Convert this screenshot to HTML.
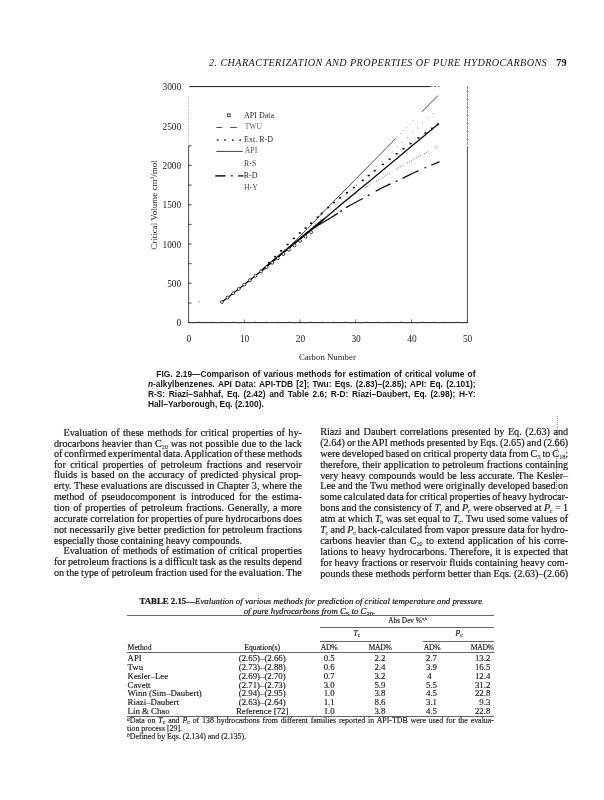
<!DOCTYPE html>
<html><head><meta charset="utf-8"><title>page 79</title>
<style>
html,body{margin:0;padding:0;background:#fff;}
body{width:604px;height:800px;position:relative;overflow:hidden;filter:grayscale(1);font-family:"Liberation Serif",serif;color:#151515;}
.l{position:absolute;white-space:nowrap;}
.b{font-size:10.2px;line-height:11px;height:11px;-webkit-text-stroke:0.18px #151515;}
.b sub{font-size:6.2px;line-height:0;vertical-align:-1.6px;-webkit-text-stroke:0.08px #151515;}
.b i+sub{margin-left:-0.4px;}
.cap{font-family:"Liberation Sans",sans-serif;font-weight:bold;font-size:8.4px;line-height:10px;height:10px;color:#151515;}
sub,sup{line-height:0;}
.tk{-webkit-text-stroke:0.14px #151515;}
.tk2{-webkit-text-stroke:0.2px #151515;}
.hr{position:absolute;height:0;}
svg text{font-family:"Liberation Serif",serif;fill:#1a1a1a;}
</style></head><body>

<div class="l" id="hdr" style="left:209px;top:56.50px;font-style:italic;font-size:10.2px;line-height:12px;letter-spacing:0.4px;">2. CHARACTERIZATION AND PROPERTIES OF PURE HYDROCARBONS</div>
<div class="l" id="pg" style="left:556.3px;top:56.50px;font-weight:bold;font-size:10.2px;line-height:12px;">79</div>
<svg id="chart" style="position:absolute;left:0;top:0" width="604" height="420" viewBox="0 0 604 420">
<line x1="189.2" y1="86.6" x2="430" y2="86.6" stroke="#1c1c1c" stroke-width="1"/>
<line x1="430" y1="86.6" x2="440" y2="86.6" stroke="#1c1c1c" stroke-width="0.8" stroke-dasharray="2.5 1.5" opacity="0.7"/>
<line x1="188.6" y1="96" x2="188.6" y2="146" stroke="#1c1c1c" stroke-width="0.7" stroke-dasharray="1 1.3" opacity="0.55"/>
<line x1="188.6" y1="146" x2="188.6" y2="323" stroke="#1c1c1c" stroke-width="0.8"/>
<line x1="188.2" y1="322.6" x2="468" y2="322.6" stroke="#1c1c1c" stroke-width="1"/>
<line x1="467.4" y1="86" x2="467.4" y2="147" stroke="#1c1c1c" stroke-width="0.8" stroke-dasharray="3 1" opacity="0.75"/>
<line x1="467.4" y1="147" x2="467.4" y2="323" stroke="#1c1c1c" stroke-width="0.8"/>
<line x1="198.2" y1="300.8" x2="199.6" y2="302.4" stroke="#444" stroke-width="0.7"/>
<line x1="188.6" y1="303.0" x2="191.6" y2="303.0" stroke="#1c1c1c" stroke-width="0.8"/>
<line x1="188.6" y1="283.3" x2="191.6" y2="283.3" stroke="#1c1c1c" stroke-width="0.8"/>
<line x1="188.6" y1="263.7" x2="191.6" y2="263.7" stroke="#1c1c1c" stroke-width="0.8"/>
<line x1="188.6" y1="244.0" x2="191.6" y2="244.0" stroke="#1c1c1c" stroke-width="0.8"/>
<line x1="188.6" y1="224.4" x2="191.6" y2="224.4" stroke="#1c1c1c" stroke-width="0.8"/>
<line x1="188.6" y1="204.7" x2="191.6" y2="204.7" stroke="#1c1c1c" stroke-width="0.8"/>
<line x1="188.6" y1="185.1" x2="191.6" y2="185.1" stroke="#1c1c1c" stroke-width="0.8"/>
<line x1="188.6" y1="165.4" x2="191.6" y2="165.4" stroke="#1c1c1c" stroke-width="0.8"/>
<line x1="188.6" y1="145.8" x2="191.6" y2="145.8" stroke="#1c1c1c" stroke-width="0.8"/>
<line x1="199.7" y1="322.6" x2="199.7" y2="321.0" stroke="#1c1c1c" stroke-width="0.7" opacity="0.4"/>
<line x1="210.9" y1="322.6" x2="210.9" y2="321.0" stroke="#1c1c1c" stroke-width="0.7" opacity="0.4"/>
<line x1="222.0" y1="322.6" x2="222.0" y2="321.0" stroke="#1c1c1c" stroke-width="0.7" opacity="0.4"/>
<line x1="233.2" y1="322.6" x2="233.2" y2="321.0" stroke="#1c1c1c" stroke-width="0.7" opacity="0.4"/>
<line x1="244.3" y1="322.6" x2="244.3" y2="319.40000000000003" stroke="#1c1c1c" stroke-width="0.7" opacity="0.85"/>
<line x1="255.5" y1="322.6" x2="255.5" y2="321.0" stroke="#1c1c1c" stroke-width="0.7" opacity="0.4"/>
<line x1="266.6" y1="322.6" x2="266.6" y2="321.0" stroke="#1c1c1c" stroke-width="0.7" opacity="0.4"/>
<line x1="277.8" y1="322.6" x2="277.8" y2="321.0" stroke="#1c1c1c" stroke-width="0.7" opacity="0.4"/>
<line x1="288.9" y1="322.6" x2="288.9" y2="321.0" stroke="#1c1c1c" stroke-width="0.7" opacity="0.4"/>
<line x1="300.1" y1="322.6" x2="300.1" y2="319.40000000000003" stroke="#1c1c1c" stroke-width="0.7" opacity="0.85"/>
<line x1="311.2" y1="322.6" x2="311.2" y2="321.0" stroke="#1c1c1c" stroke-width="0.7" opacity="0.4"/>
<line x1="322.4" y1="322.6" x2="322.4" y2="321.0" stroke="#1c1c1c" stroke-width="0.7" opacity="0.4"/>
<line x1="333.5" y1="322.6" x2="333.5" y2="321.0" stroke="#1c1c1c" stroke-width="0.7" opacity="0.4"/>
<line x1="344.7" y1="322.6" x2="344.7" y2="321.0" stroke="#1c1c1c" stroke-width="0.7" opacity="0.4"/>
<line x1="355.8" y1="322.6" x2="355.8" y2="319.40000000000003" stroke="#1c1c1c" stroke-width="0.7" opacity="0.85"/>
<line x1="367.0" y1="322.6" x2="367.0" y2="321.0" stroke="#1c1c1c" stroke-width="0.7" opacity="0.4"/>
<line x1="378.1" y1="322.6" x2="378.1" y2="321.0" stroke="#1c1c1c" stroke-width="0.7" opacity="0.4"/>
<line x1="389.3" y1="322.6" x2="389.3" y2="321.0" stroke="#1c1c1c" stroke-width="0.7" opacity="0.4"/>
<line x1="400.4" y1="322.6" x2="400.4" y2="321.0" stroke="#1c1c1c" stroke-width="0.7" opacity="0.4"/>
<line x1="411.6" y1="322.6" x2="411.6" y2="319.40000000000003" stroke="#1c1c1c" stroke-width="0.7" opacity="0.85"/>
<line x1="422.7" y1="322.6" x2="422.7" y2="321.0" stroke="#1c1c1c" stroke-width="0.7" opacity="0.4"/>
<line x1="433.9" y1="322.6" x2="433.9" y2="321.0" stroke="#1c1c1c" stroke-width="0.7" opacity="0.4"/>
<line x1="445.0" y1="322.6" x2="445.0" y2="321.0" stroke="#1c1c1c" stroke-width="0.7" opacity="0.4"/>
<line x1="456.2" y1="322.6" x2="456.2" y2="321.0" stroke="#1c1c1c" stroke-width="0.7" opacity="0.4"/>
<text x="181.2" y="326.2" font-size="9.4" text-anchor="end">0</text>
<text x="181.2" y="286.9" font-size="9.4" text-anchor="end">500</text>
<text x="181.2" y="247.6" font-size="9.4" text-anchor="end">1000</text>
<text x="181.2" y="208.3" font-size="9.4" text-anchor="end">1500</text>
<text x="181.2" y="169.0" font-size="9.4" text-anchor="end">2000</text>
<text x="181.2" y="129.7" font-size="9.4" text-anchor="end">2500</text>
<text x="181.2" y="90.4" font-size="9.4" text-anchor="end">3000</text>
<text x="188.9" y="341.9" font-size="9.4" text-anchor="middle">0</text>
<text x="244.6" y="341.9" font-size="9.4" text-anchor="middle">10</text>
<text x="300.4" y="341.9" font-size="9.4" text-anchor="middle">20</text>
<text x="356.1" y="341.9" font-size="9.4" text-anchor="middle">30</text>
<text x="411.9" y="341.9" font-size="9.4" text-anchor="middle">40</text>
<text x="467.6" y="341.9" font-size="9.4" text-anchor="middle">50</text>
<text x="327.4" y="360.4" font-size="8.8" text-anchor="middle">Carbon Number</text>
<text transform="translate(157.3,205) rotate(-90)" font-size="9" text-anchor="middle">Critical Volume cm<tspan font-size="5.5" dy="-3">3</tspan><tspan dy="3">/mol</tspan></text>
<rect x="227.4" y="113.9" width="2.8" height="2.8" fill="none" stroke="#222" stroke-width="0.8"/>
<text x="244.1" y="117.8" font-size="8" style="fill:#2a2a2a">API Data</text>
<line x1="216.3" y1="127.5" x2="222.2" y2="127.5" stroke="#222" stroke-width="0.8"/>
<line x1="230.2" y1="127.5" x2="236.8" y2="127.5" stroke="#222" stroke-width="0.8"/>
<text x="244.7" y="129.3" font-size="7.6" style="fill:#6a6a6a">TWU</text>
<rect x="216.79999999999998" y="139.4" width="1.7" height="1.4" fill="#111"/>
<rect x="224.1" y="139.4" width="1.7" height="1.4" fill="#111"/>
<rect x="232.0" y="139.4" width="1.7" height="1.4" fill="#111"/>
<rect x="239.29999999999998" y="139.4" width="1.7" height="1.4" fill="#111"/>
<text x="244.1" y="142.1" font-size="8" style="fill:#2a2a2a">Ext. R-D</text>
<line x1="216.3" y1="151.4" x2="242.7" y2="151.4" stroke="#111" stroke-width="0.8"/>
<text x="244.7" y="153.4" font-size="7.8" style="fill:#555">API</text>
<text x="244.1" y="165.7" font-size="7.8" style="fill:#444">R-S</text>
<line x1="215.3" y1="175.9" x2="225.5" y2="175.9" stroke="#111" stroke-width="1.5"/>
<line x1="231" y1="175.9" x2="232.8" y2="175.9" stroke="#111" stroke-width="1.1"/>
<line x1="238.1" y1="175.9" x2="243.6" y2="175.9" stroke="#111" stroke-width="1.3"/>
<text x="243.7" y="177.7" font-size="8" style="fill:#2a2a2a">R-D</text>
<text x="244.1" y="189.8" font-size="7.8" style="fill:#555">H-Y</text>
<polyline points="262.0,270.2 263.9,268.7 265.8,267.2 267.7,265.7 269.6,264.2 271.5,262.6 273.4,261.0 275.3,259.4 277.2,257.8 279.1,256.2 281.0,254.5 282.9,252.7 284.8,251.0 286.7,249.2 288.6,247.3 290.5,245.5 292.4,243.6 294.3,241.7 296.2,239.8 298.1,237.9 300.0,236.0" fill="none" stroke="#161616" stroke-width="0.7" opacity="0.9"/>
<polyline points="300.0,236.0 302.0,234.0 303.9,232.1 305.9,230.1 307.8,228.1 309.8,226.1 311.8,224.0 313.7,222.0 315.7,220.0 317.6,218.0 319.6,216.0 321.6,214.0 323.5,211.9 325.5,209.9 327.4,207.9 329.4,205.9 331.3,203.9 333.3,201.9 335.3,199.8 337.2,197.8 339.2,195.8 341.1,193.8 343.1,191.8 345.1,189.9 347.0,187.9 349.0,185.9 350.9,183.9 352.9,181.9 354.9,179.9 356.8,178.0 358.8,176.0 360.7,174.0 362.7,172.0 364.7,170.0 366.6,168.1 368.6,166.1 370.5,164.1 372.5,162.1 374.4,160.1 376.4,158.1 378.4,156.2 380.3,154.2 382.3,152.2 384.2,150.2 386.2,148.2 388.2,146.2 390.1,144.2 392.1,142.2 394.0,140.2 396.0,138.2" fill="none" stroke="#161616" stroke-width="0.8" opacity="1"/>
<polyline points="422.0,111.8 423.8,110.0 425.6,108.2 427.3,106.4 429.1,104.5 430.9,102.7 432.7,100.9 434.4,99.1 436.2,97.3 438.0,95.7" fill="none" stroke="#161616" stroke-width="0.8" opacity="1"/>
<polyline points="397.0,137.2 398.8,135.4 400.6,133.6 402.4,131.7 404.2,129.9 406.0,128.1 407.8,126.2 409.6,124.4 411.4,122.6 413.2,120.7 415.0,118.9" fill="none" stroke="#222" stroke-width="0.7" stroke-dasharray="1 3.5" opacity="0.8"/>
<polyline points="300.0,238.5 302.0,236.6 303.9,234.8 305.9,232.9 307.9,231.0 309.9,229.2 311.8,227.3 313.8,225.5 315.8,223.6 317.7,221.7 319.7,219.9 321.7,218.0 323.7,216.1 325.6,214.3 327.6,212.4 329.6,210.5 331.5,208.7 333.5,206.8 335.5,205.0 337.4,203.1 339.4,201.2 341.4,199.4 343.4,197.5 345.3,195.7 347.3,193.8 349.3,192.0 351.2,190.1 353.2,188.3 355.2,186.4 357.2,184.6 359.1,182.7 361.1,180.8 363.1,179.0 365.0,177.1 367.0,175.3 369.0,173.4 371.0,171.6 372.9,169.7 374.9,167.9 376.9,166.0 378.8,164.2 380.8,162.3 382.8,160.5 384.8,158.6 386.7,156.8 388.7,154.9 390.7,153.1 392.6,151.3 394.6,149.4 396.6,147.6 398.6,145.7 400.5,143.9 402.5,142.0 404.5,140.2 406.4,138.3 408.4,136.5 410.4,134.6 412.3,132.8 414.3,130.9 416.3,129.0 418.3,127.2 420.2,125.3 422.2,123.5 424.2,121.6 426.1,119.7 428.1,117.9 430.1,116.0 432.1,114.2 434.0,112.3 436.0,111.1" fill="none" stroke="#333" stroke-width="0.8" stroke-dasharray="1 6" opacity="0.75"/>
<polyline points="338.0,206.7 339.8,205.0 341.6,203.4 343.5,201.8 345.3,200.3 347.1,198.9 348.9,197.5 350.7,196.2 352.5,195.0 354.4,193.9 356.2,192.8 358.0,191.7" fill="none" stroke="#222" stroke-width="0.75" stroke-dasharray="1 1.5" opacity="0.85"/>
<polyline points="365.0,187.7 366.5,186.8 368.0,186.0 369.5,185.2 371.0,184.4" fill="none" stroke="#222" stroke-width="0.75" stroke-dasharray="1 1.5" opacity="0.85"/>
<polyline points="376.0,181.6 377.8,180.5 379.5,179.5 381.2,178.5 383.0,177.4 384.8,176.4 386.5,175.3 388.2,174.3 390.0,173.2" fill="none" stroke="#222" stroke-width="0.75" stroke-dasharray="1 1.5" opacity="0.85"/>
<polyline points="396.0,169.5 397.6,168.5 399.2,167.6 400.8,166.6 402.4,165.6 404.0,164.7" fill="none" stroke="#222" stroke-width="0.75" stroke-dasharray="1 1.5" opacity="0.85"/>
<polyline points="407.0,163.0 408.8,162.0 410.5,161.0 412.2,160.0 414.0,159.1 415.8,158.1 417.5,157.2 419.2,156.3 421.0,155.4" fill="none" stroke="#222" stroke-width="0.75" stroke-dasharray="1 1.5" opacity="0.85"/>
<polyline points="424.0,153.8 425.7,152.9 427.3,152.0 429.0,151.2" fill="none" stroke="#222" stroke-width="0.75" stroke-dasharray="1 1.5" opacity="0.85"/>
<polyline points="435.0,148.0 436.8,147.1 438.5,146.3" fill="none" stroke="#222" stroke-width="0.75" stroke-dasharray="1 1.5" opacity="0.85"/>
<polyline points="300.0,239.2 301.9,237.5 303.8,235.7 305.7,234.0 307.6,232.4 309.5,230.9 311.4,229.6 313.3,228.3 315.2,227.1 317.1,225.9 319.0,224.8 320.9,223.6 322.8,222.5 324.7,221.4 326.6,220.2 328.5,219.1 330.4,218.0 332.3,216.8 334.2,215.6 336.1,214.4 338.0,213.1" fill="none" stroke="#111" stroke-width="1.3"/>
<polyline points="345.9,207.7 347.8,206.6 349.7,205.5 351.5,204.5 353.4,203.5 355.3,202.5 357.2,201.5 359.0,200.5 360.9,199.5 362.8,198.5" fill="none" stroke="#111" stroke-width="1.3"/>
<polyline points="375.7,191.2 377.6,190.2 379.4,189.2 381.3,188.3 383.1,187.3 385.0,186.4 386.9,185.6 388.7,184.7 390.6,183.8" fill="none" stroke="#111" stroke-width="1.3"/>
<polyline points="402.5,178.3 404.5,177.3 406.5,176.4 408.5,175.4 410.4,174.4 412.4,173.5 414.4,172.5 416.4,171.6 418.4,170.7" fill="none" stroke="#111" stroke-width="1.3"/>
<polyline points="431.3,165.2 432.9,164.5 434.6,163.8 436.2,163.1 437.9,162.4 439.5,161.7" fill="none" stroke="#111" stroke-width="1.3"/>
<polyline points="340.0,211.7 341.8,210.4" fill="none" stroke="#111" stroke-width="1.3"/>
<polyline points="367.8,195.7 369.6,194.6" fill="none" stroke="#111" stroke-width="1.3"/>
<polyline points="395.7,181.5 397.5,180.6" fill="none" stroke="#111" stroke-width="1.3"/>
<polyline points="424.5,168.0 426.3,167.3" fill="none" stroke="#111" stroke-width="1.3"/>
<polyline points="222.0,302.0 223.8,300.6 226.2,298.7 229.1,296.5 232.2,294.0 235.5,291.4 238.8,288.9 241.8,286.5 244.5,284.4 246.8,282.6 248.9,280.9 250.8,279.4 252.6,277.9 254.5,276.4 256.4,274.9 258.4,273.2 260.7,271.3 263.2,269.3 265.7,267.1 268.4,264.9 271.1,262.6 274.0,260.2 276.9,257.7 279.9,255.2 283.0,252.6 286.2,250.0 289.6,247.2 293.0,244.4 296.6,241.5 300.2,238.6 303.8,235.7 307.4,232.7 311.0,229.8 314.5,226.9 317.9,224.1 321.3,221.2 324.8,218.3 328.3,215.4 332.0,212.3 335.8,209.1 340.0,205.6 344.5,201.8 349.5,197.8 354.6,193.5 359.9,189.1 365.2,184.7 370.4,180.4 375.4,176.3 380.0,172.5 384.2,169.0 388.2,165.7 392.0,162.5 395.7,159.4 399.3,156.4 402.8,153.5 406.4,150.5 410.0,147.5 413.9,144.3 418.0,140.9 422.2,137.4 426.4,133.9 430.3,130.7 433.8,127.8 436.8,125.3 439.0,123.5" fill="none" stroke="#0a0a0a" stroke-width="1.25"/>
<polyline points="262.0,270.2 263.9,268.6 265.9,267.0 267.8,265.3 269.8,263.7 271.7,262.1 273.6,260.4 275.6,258.8 277.5,257.2 279.4,255.6 281.4,253.9 283.3,252.3 285.2,250.8 287.2,249.2 289.1,247.6 291.1,246.0 293.0,244.4 294.9,242.9 296.9,241.3 298.8,239.7 300.8,238.2 302.7,236.6 304.6,235.0 306.6,233.4 308.5,231.9 310.4,230.3 312.4,228.7 314.3,227.1 316.2,225.4 318.2,223.8 320.1,222.2 322.1,220.6 324.0,219.0" fill="none" stroke="#0a0a0a" stroke-width="2.0"/>
<rect x="268.0" y="261.8" width="2.1" height="1.6" fill="#111"/>
<rect x="274.0" y="255.9" width="2.1" height="1.6" fill="#111"/>
<rect x="280.0" y="250.0" width="2.1" height="1.6" fill="#111"/>
<rect x="286.5" y="243.7" width="2.1" height="1.6" fill="#111"/>
<rect x="292.8" y="237.6" width="2.1" height="1.6" fill="#111"/>
<rect x="298.7" y="232.2" width="2.1" height="1.6" fill="#111"/>
<rect x="304.5" y="227.2" width="2.1" height="1.6" fill="#111"/>
<rect x="310.0" y="222.4" width="2.1" height="1.6" fill="#111"/>
<rect x="316.6" y="216.4" width="2.1" height="1.6" fill="#111"/>
<rect x="320.6" y="212.7" width="2.1" height="1.6" fill="#111"/>
<rect x="327.2" y="206.7" width="2.1" height="1.6" fill="#111"/>
<rect x="333.0" y="201.7" width="2.1" height="1.6" fill="#111"/>
<rect x="338.9" y="197.1" width="2.1" height="1.6" fill="#111"/>
<rect x="345.9" y="191.9" width="2.1" height="1.6" fill="#111"/>
<rect x="352.8" y="186.8" width="2.1" height="1.6" fill="#111"/>
<rect x="361.8" y="179.6" width="2.1" height="1.6" fill="#111"/>
<rect x="367.7" y="174.7" width="2.1" height="1.6" fill="#111"/>
<rect x="373.7" y="169.9" width="2.1" height="1.6" fill="#111"/>
<rect x="381.7" y="163.6" width="2.1" height="1.6" fill="#111"/>
<rect x="388.6" y="158.3" width="2.1" height="1.6" fill="#111"/>
<rect x="395.6" y="153.0" width="2.1" height="1.6" fill="#111"/>
<rect x="402.5" y="147.9" width="2.1" height="1.6" fill="#111"/>
<rect x="409.5" y="142.8" width="2.1" height="1.6" fill="#111"/>
<rect x="417.4" y="137.1" width="2.1" height="1.6" fill="#111"/>
<rect x="424.4" y="132.2" width="2.1" height="1.6" fill="#111"/>
<rect x="431.0" y="127.6" width="2.1" height="1.6" fill="#111"/>
<rect x="436.8" y="123.6" width="2.1" height="1.6" fill="#111"/>
<circle cx="222.0" cy="302.0" r="1.45" fill="#fff" stroke="#111" stroke-width="0.8"/>
<circle cx="227.6" cy="297.6" r="1.45" fill="#fff" stroke="#111" stroke-width="0.8"/>
<circle cx="233.2" cy="293.3" r="1.45" fill="#fff" stroke="#111" stroke-width="0.8"/>
<circle cx="238.8" cy="288.9" r="1.45" fill="#fff" stroke="#111" stroke-width="0.8"/>
<circle cx="244.3" cy="284.6" r="1.45" fill="#fff" stroke="#111" stroke-width="0.8"/>
<circle cx="249.9" cy="280.2" r="1.45" fill="#fff" stroke="#111" stroke-width="0.8"/>
<circle cx="255.5" cy="275.8" r="1.45" fill="#fff" stroke="#111" stroke-width="0.8"/>
<circle cx="261.1" cy="271.5" r="1.45" fill="#fff" stroke="#111" stroke-width="0.8"/>
<circle cx="266.6" cy="267.1" r="1.45" fill="#fff" stroke="#111" stroke-width="0.8"/>
<circle cx="272.2" cy="262.8" r="1.45" fill="#fff" stroke="#111" stroke-width="0.8"/>
<circle cx="277.8" cy="258.4" r="1.45" fill="#fff" stroke="#111" stroke-width="0.8"/>
<circle cx="283.4" cy="254.1" r="1.45" fill="#fff" stroke="#111" stroke-width="0.8"/>
<circle cx="288.9" cy="249.7" r="1.45" fill="#fff" stroke="#111" stroke-width="0.8"/>
<circle cx="294.5" cy="245.4" r="1.45" fill="#fff" stroke="#111" stroke-width="0.8"/>
<circle cx="300.1" cy="241.0" r="1.45" fill="#fff" stroke="#111" stroke-width="0.8"/>
<circle cx="305.7" cy="236.7" r="1.45" fill="#fff" stroke="#111" stroke-width="0.8"/>
<circle cx="311.2" cy="232.3" r="1.45" fill="#fff" stroke="#111" stroke-width="0.8"/>
</svg>
<div class="l cap" id="cap0" style="left:156.3px;top:369.00px;word-spacing:0.833px;">FIG. 2.19—Comparison of various methods for estimation of critical volume of</div>
<div class="l cap" id="cap1" style="left:147.9px;top:379.00px;word-spacing:0.942px;"><i>n</i>-alkylbenzenes. API Data<span>:</span> API-TDB [2]; Twu: Eqs. (2.83)–(2.85); API: Eq. (2.101);</div>
<div class="l cap" id="cap2" style="left:147.9px;top:389.00px;word-spacing:1.339px;">R-S: Riazi–Sahhaf, Eq. (2.42) and Table 2.6; R-D: Riazi–Daubert, Eq. (2.98); H-Y:</div>
<div class="l cap" id="cap3" style="left:147.9px;top:399.00px;word-spacing:0.000px;">Hall–Yarborough, Eq. (2.100).</div>
<div class="l b" id="L0" style="left:63.5px;top:427.00px;word-spacing:0.872px;">Evaluation of these methods for critical properties of hy-</div>
<div class="l b" id="L1" style="left:53.9px;top:438.00px;word-spacing:0.246px;">drocarbons heavier than C<sub>20</sub> was not possible due to the lack</div>
<div class="l b" id="L2" style="left:53.9px;top:448.00px;word-spacing:-0.621px;">of confirmed experimental data. Application of these methods</div>
<div class="l b" id="L3" style="left:53.9px;top:459.00px;word-spacing:1.847px;">for critical properties of petroleum fractions and reservoir</div>
<div class="l b" id="L4" style="left:53.9px;top:469.00px;word-spacing:1.185px;">fluids is based on the accuracy of predicted physical prop-</div>
<div class="l b" id="L5" style="left:53.9px;top:480.00px;word-spacing:0.022px;">erty. These evaluations are discussed in Chapter 3, where the</div>
<div class="l b" id="L6" style="left:53.9px;top:491.00px;word-spacing:1.762px;">method of pseudocomponent is introduced for the estima-</div>
<div class="l b" id="L7" style="left:53.9px;top:502.00px;word-spacing:0.884px;">tion of properties of petroleum fractions. Generally, a more</div>
<div class="l b" id="L8" style="left:53.9px;top:513.00px;word-spacing:-0.171px;">accurate correlation for properties of pure hydrocarbons does</div>
<div class="l b" id="L9" style="left:53.9px;top:524.00px;word-spacing:0.149px;">not necessarily give better prediction for petroleum fractions</div>
<div class="l b" id="L10" style="left:53.9px;top:535.00px;word-spacing:-0.300px;">especially those containing heavy compounds.</div>
<div class="l b" id="L11" style="left:63.5px;top:545.00px;word-spacing:0.713px;">Evaluation of methods of estimation of critical properties</div>
<div class="l b" id="L12" style="left:53.9px;top:556.00px;word-spacing:-0.360px;">for petroleum fractions is a difficult task as the results depend</div>
<div class="l b" id="L13" style="left:53.9px;top:567.00px;word-spacing:-0.274px;">on the type of petroleum fraction used for the evaluation. The</div>
<div class="l b" id="R0" style="left:320.2px;top:426.00px;word-spacing:1.015px;">Riazi and Daubert correlations presented by Eq. (2.63) and</div>
<div class="l b" id="R1" style="left:320.2px;top:437.00px;word-spacing:-0.436px;">(2.64) or the API methods presented by Eqs. (2.65) and (2.66)</div>
<div class="l b" id="R2" style="left:320.2px;top:448.00px;word-spacing:-0.572px;">were developed based on critical property data from C<sub>5</sub> to C<sub>18</sub>;</div>
<div class="l b" id="R3" style="left:320.2px;top:459.00px;word-spacing:0.270px;">therefore, their application to petroleum fractions containing</div>
<div class="l b" id="R4" style="left:320.2px;top:470.00px;word-spacing:0.507px;">very heavy compounds would be less accurate. The Kesler–</div>
<div class="l b" id="R5" style="left:320.2px;top:480.00px;word-spacing:-0.037px;">Lee and the Twu method were originally developed based on</div>
<div class="l b" id="R6" style="left:320.2px;top:491.00px;word-spacing:-0.653px;">some calculated data for critical properties of heavy hydrocar-</div>
<div class="l b" id="R7" style="left:320.2px;top:502.00px;word-spacing:-0.171px;">bons and the consistency of <i>T</i><sub>c</sub> and <i>P</i><sub>c</sub> were observed at <i>P</i><sub>c</sub> = 1</div>
<div class="l b" id="R8" style="left:320.2px;top:513.00px;word-spacing:-0.093px;">atm at which <i>T</i><sub>b</sub> was set equal to <i>T</i><sub>c</sub>. Twu used some values of</div>
<div class="l b" id="R9" style="left:320.2px;top:524.00px;word-spacing:-0.348px;"><i>T</i><sub>c</sub> and <i>P</i><sub>c</sub> back-calculated from vapor pressure data for hydro-</div>
<div class="l b" id="R10" style="left:320.2px;top:535.00px;word-spacing:0.875px;">carbons heavier than C<sub>20</sub> to extend application of his corre-</div>
<div class="l b" id="R11" style="left:320.2px;top:546.00px;word-spacing:0.472px;">lations to heavy hydrocarbons. Therefore, it is expected that</div>
<div class="l b" id="R12" style="left:320.2px;top:557.00px;word-spacing:-0.047px;">for heavy fractions or reservoir fluids containing heavy com-</div>
<div class="l b" id="R13" style="left:320.2px;top:568.00px;word-spacing:-0.056px;">pounds these methods perform better than Eqs. (2.63)–(2.66)</div>
<div class="l tk2" id="tt1" style="left:139.5px;top:595.63px;font-size:8.8px;line-height:10px;width:341.6px;text-align:justify;text-align-last:justify;"><b>TABLE 2.15</b>—<i>Evaluation of various methods for prediction of critical temperature and pressure</i></div>
<div class="l tk2" id="tt2" style="left:243.7px;top:605.53px;font-size:8.8px;line-height:10px;font-style:italic;">of pure hydrocarbons from C<sub style="font-size:6.8px;vertical-align:-1.6px">5</sub> to C<sub style="font-size:6.8px;vertical-align:-1.6px">20</sub>.</div>
<div class="hr" style="left:127.1px;width:366.8px;top:614.9px;border-top:1px solid #666;"></div>
<div class="hr" style="left:320.4px;width:173.5px;top:626.8px;border-top:1px solid #666;"></div>
<div class="hr" style="left:320.4px;width:70.8px;top:640.9px;border-top:1px solid #666;"></div>
<div class="hr" style="left:423.2px;width:70.7px;top:640.9px;border-top:1px solid #666;"></div>
<div class="hr" style="left:127.1px;width:366.8px;top:652.1px;border-top:1px solid #666;"></div>
<div class="hr" style="left:127.1px;width:366.8px;top:715.6px;border-top:1px solid #666;"></div>
<div class="l tk" id="absdev" style="left:357.8px;width:100px;text-align:center;top:615.74px;font-size:7.3px;line-height:10px;">Abs Dev %<sup style="font-size:4.5px;vertical-align:2.6px">a,b</sup></div>
<div class="l tk" id="tc" style="left:306.7px;width:100px;text-align:center;top:628.63px;font-size:8.2px;line-height:10px;"><i>T</i><sub style="font-size:5.2px;vertical-align:-1.2px">c</sub></div>
<div class="l tk" id="pc" style="left:408.8px;width:100px;text-align:center;top:628.63px;font-size:8.2px;line-height:10px;"><i>P</i><sub style="font-size:5.2px;vertical-align:-1.2px">c</sub></div>
<div class="l tk" id="hm" style="left:127.6px;top:642.60px;font-size:7.7px;line-height:10px;">Method</div>
<div class="l tk" id="he" style="left:212.2px;width:100px;text-align:center;top:642.60px;font-size:7.7px;line-height:10px;">Equation(s)</div>
<div class="l tk" id="h1" style="left:320.7px;top:642.60px;font-size:7.7px;line-height:10px;letter-spacing:-0.3px;">AD%</div>
<div class="l tk" id="h2" style="left:291.6px;width:100px;text-align:right;top:642.60px;font-size:7.7px;line-height:10px;letter-spacing:-0.3px;">MAD%</div>
<div class="l tk" id="h3" style="left:423.7px;top:642.60px;font-size:7.7px;line-height:10px;letter-spacing:-0.3px;">AD%</div>
<div class="l tk" id="h4" style="left:393.9px;width:100px;text-align:right;top:642.60px;font-size:7.7px;line-height:10px;letter-spacing:-0.3px;">MAD%</div>
<div class="l tk" id="r0a" style="left:127.6px;top:653.23px;font-size:8.8px;line-height:10px;">API</div>
<div class="l tk" id="r0b" style="left:212.2px;width:100px;text-align:center;top:653.23px;font-size:8.8px;line-height:10px;">(2.65)–(2.66)</div>
<div class="l tk" id="r0c" style="left:323.7px;top:653.23px;font-size:8.8px;line-height:10px;">0.5</div>
<div class="l tk" id="r0d" style="left:285.4px;width:100px;text-align:right;top:653.23px;font-size:8.8px;line-height:10px;">2.2</div>
<div class="l tk" id="r0e" style="left:426.0px;top:653.23px;font-size:8.8px;line-height:10px;">2.7</div>
<div class="l tk" id="r0f" style="left:390.3px;width:100px;text-align:right;top:653.23px;font-size:8.8px;line-height:10px;">13.2</div>
<div class="l tk" id="r1a" style="left:127.6px;top:662.23px;font-size:8.8px;line-height:10px;">Twu</div>
<div class="l tk" id="r1b" style="left:212.2px;width:100px;text-align:center;top:662.23px;font-size:8.8px;line-height:10px;">(2.73)–(2.88)</div>
<div class="l tk" id="r1c" style="left:323.7px;top:662.23px;font-size:8.8px;line-height:10px;">0.6</div>
<div class="l tk" id="r1d" style="left:285.4px;width:100px;text-align:right;top:662.23px;font-size:8.8px;line-height:10px;">2.4</div>
<div class="l tk" id="r1e" style="left:426.0px;top:662.23px;font-size:8.8px;line-height:10px;">3.9</div>
<div class="l tk" id="r1f" style="left:390.3px;width:100px;text-align:right;top:662.23px;font-size:8.8px;line-height:10px;">16.5</div>
<div class="l tk" id="r2a" style="left:127.6px;top:671.23px;font-size:8.8px;line-height:10px;">Kesler–Lee</div>
<div class="l tk" id="r2b" style="left:212.2px;width:100px;text-align:center;top:671.23px;font-size:8.8px;line-height:10px;">(2.69)–(2.70)</div>
<div class="l tk" id="r2c" style="left:323.7px;top:671.23px;font-size:8.8px;line-height:10px;">0.7</div>
<div class="l tk" id="r2d" style="left:285.4px;width:100px;text-align:right;top:671.23px;font-size:8.8px;line-height:10px;">3.2</div>
<div class="l tk" id="r2e" style="left:427.3px;top:671.23px;font-size:8.8px;line-height:10px;">4</div>
<div class="l tk" id="r2f" style="left:390.3px;width:100px;text-align:right;top:671.23px;font-size:8.8px;line-height:10px;">12.4</div>
<div class="l tk" id="r3a" style="left:127.6px;top:680.23px;font-size:8.8px;line-height:10px;">Cavett</div>
<div class="l tk" id="r3b" style="left:212.2px;width:100px;text-align:center;top:680.23px;font-size:8.8px;line-height:10px;">(2.71)–(2.73)</div>
<div class="l tk" id="r3c" style="left:323.7px;top:680.23px;font-size:8.8px;line-height:10px;">3.0</div>
<div class="l tk" id="r3d" style="left:285.4px;width:100px;text-align:right;top:680.23px;font-size:8.8px;line-height:10px;">5.9</div>
<div class="l tk" id="r3e" style="left:426.0px;top:680.23px;font-size:8.8px;line-height:10px;">5.5</div>
<div class="l tk" id="r3f" style="left:390.3px;width:100px;text-align:right;top:680.23px;font-size:8.8px;line-height:10px;">31.2</div>
<div class="l tk" id="r4a" style="left:127.6px;top:688.23px;font-size:8.8px;line-height:10px;">Winn (Sim–Daubert)</div>
<div class="l tk" id="r4b" style="left:212.2px;width:100px;text-align:center;top:688.23px;font-size:8.8px;line-height:10px;">(2.94)–(2.95)</div>
<div class="l tk" id="r4c" style="left:323.7px;top:688.23px;font-size:8.8px;line-height:10px;">1.0</div>
<div class="l tk" id="r4d" style="left:285.4px;width:100px;text-align:right;top:688.23px;font-size:8.8px;line-height:10px;">3.8</div>
<div class="l tk" id="r4e" style="left:426.0px;top:688.23px;font-size:8.8px;line-height:10px;">4.5</div>
<div class="l tk" id="r4f" style="left:390.3px;width:100px;text-align:right;top:688.23px;font-size:8.8px;line-height:10px;">22.8</div>
<div class="l tk" id="r5a" style="left:127.6px;top:697.23px;font-size:8.8px;line-height:10px;">Riazi–Daubert</div>
<div class="l tk" id="r5b" style="left:212.2px;width:100px;text-align:center;top:697.23px;font-size:8.8px;line-height:10px;">(2.63)–(2.64)</div>
<div class="l tk" id="r5c" style="left:323.7px;top:697.23px;font-size:8.8px;line-height:10px;">1.1</div>
<div class="l tk" id="r5d" style="left:285.4px;width:100px;text-align:right;top:697.23px;font-size:8.8px;line-height:10px;">8.6</div>
<div class="l tk" id="r5e" style="left:426.0px;top:697.23px;font-size:8.8px;line-height:10px;">3.1</div>
<div class="l tk" id="r5f" style="left:390.3px;width:100px;text-align:right;top:697.23px;font-size:8.8px;line-height:10px;">9.3</div>
<div class="l tk" id="r6a" style="left:127.6px;top:706.23px;font-size:8.8px;line-height:10px;">Lin &amp; Chao</div>
<div class="l tk" id="r6b" style="left:212.2px;width:100px;text-align:center;top:706.23px;font-size:8.8px;line-height:10px;">Reference [72]</div>
<div class="l tk" id="r6c" style="left:323.7px;top:706.23px;font-size:8.8px;line-height:10px;">1.0</div>
<div class="l tk" id="r6d" style="left:285.4px;width:100px;text-align:right;top:706.23px;font-size:8.8px;line-height:10px;">3.8</div>
<div class="l tk" id="r6e" style="left:426.0px;top:706.23px;font-size:8.8px;line-height:10px;">4.5</div>
<div class="l tk" id="r6f" style="left:390.3px;width:100px;text-align:right;top:706.23px;font-size:8.8px;line-height:10px;">22.8</div>
<div class="l tk" id="fn1" style="left:127.1px;width:366.8px;top:715.53px;font-size:7.9px;line-height:10px;text-align:justify;text-align-last:justify;"><sup style="font-size:5.4px;vertical-align:2.4px"><i>a</i></sup>Data on <i>T</i><sub style="font-size:5.8px;vertical-align:-1.3px">c</sub> and <i>P</i><sub style="font-size:5.8px;vertical-align:-1.3px">c</sub> of 138 hydrocarbons from different families reported in API-TDB were used for the evalua-</div>
<div class="l tk" id="fn2" style="left:127.1px;top:723.83px;font-size:7.9px;line-height:10px;">tion process [29].</div>
<div class="l tk" id="fn3" style="left:127.1px;top:732.13px;font-size:7.9px;line-height:10px;"><sup style="font-size:5.4px;vertical-align:2.4px"><i>b</i></sup>Defined by Eqs. (2.134) and (2.135).</div>
<svg style="position:absolute;left:550px;top:410px" width="14" height="92" viewBox="550 410 14 92"><line x1="557.3" y1="416" x2="556.4" y2="496" stroke="#333" stroke-width="0.9" stroke-dasharray="0.9 1.1" opacity="0.8"/></svg>
</body></html>
